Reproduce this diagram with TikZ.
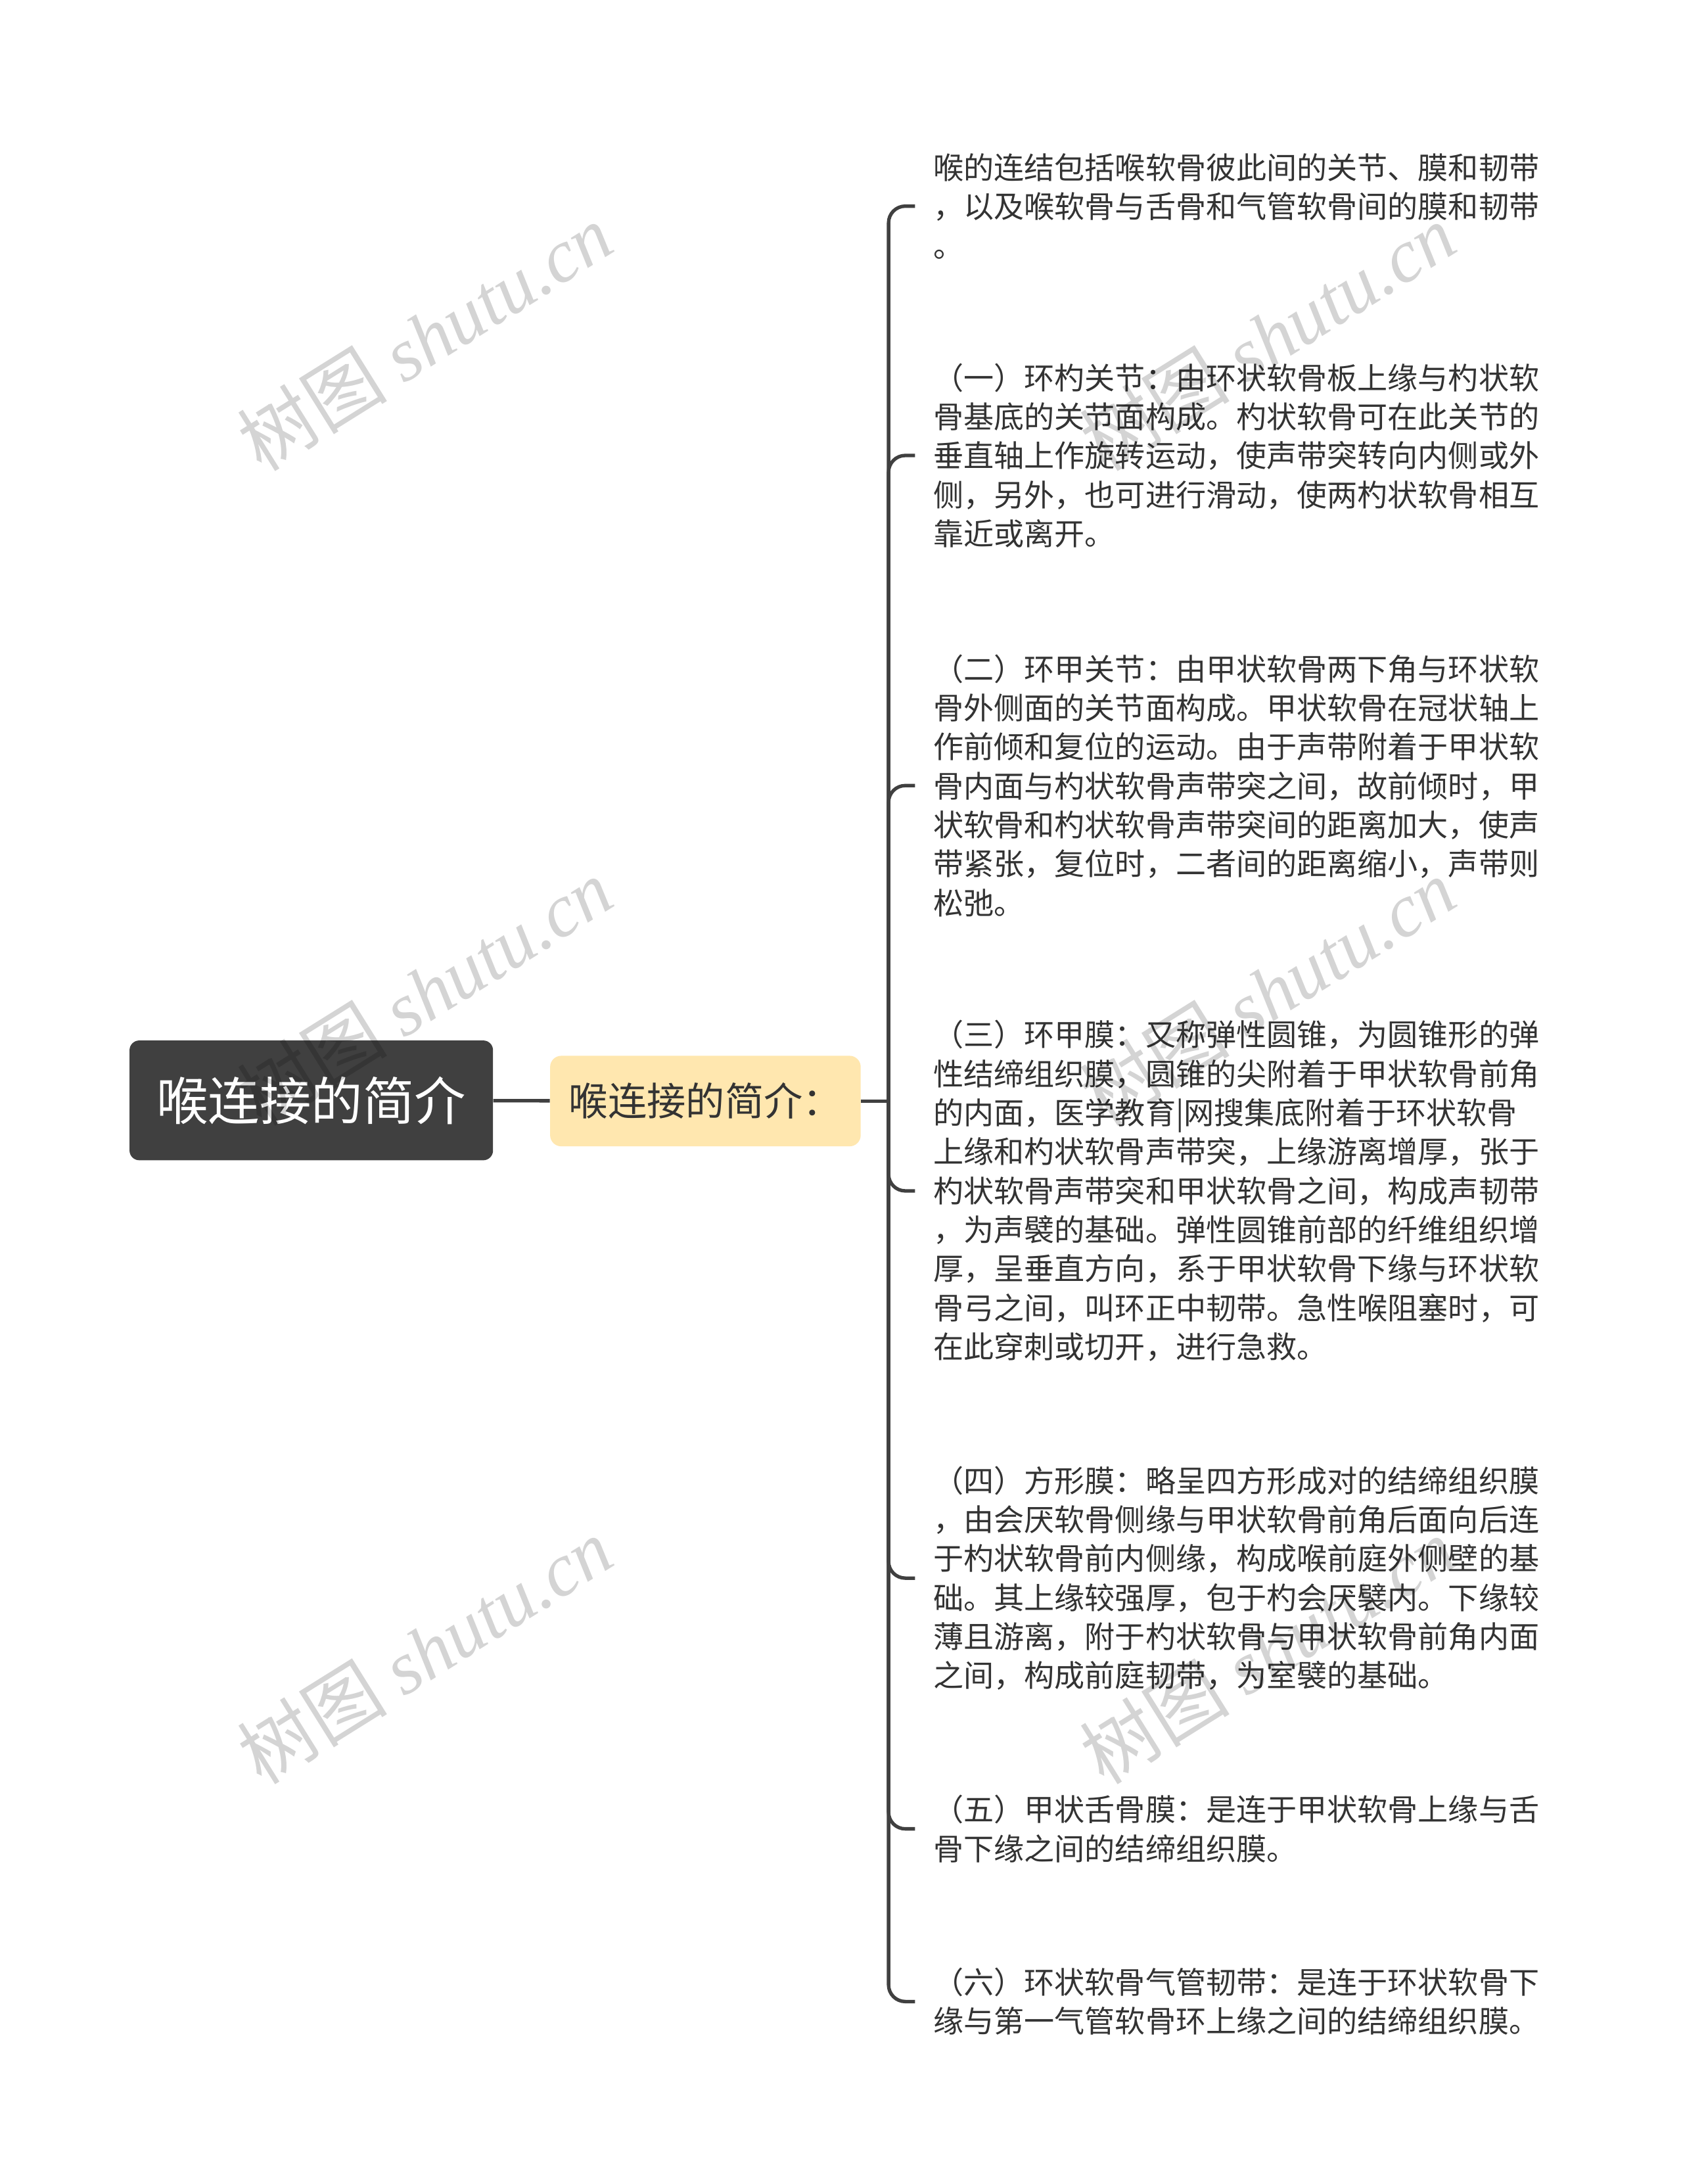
\documentclass[tikz,border=0pt]{standalone}
\usepackage{fontspec}
\setmainfont{Noto Sans CJK SC}
\newfontfamily\marcafont{Liberation Serif}
\definecolor{gris}{HTML}{404040}
\definecolor{texto}{HTML}{333333}
\definecolor{crema}{HTML}{FFE7AF}
\tikzset{
	raiz/.style={fill=gris, text=white, rounded corners=7pt, minimum width=261pt, minimum height=86pt, inner sep=0pt, font=\fontsize{37}{40}\selectfont},
	tema/.style={fill=crema, text=texto, rounded corners=8pt, minimum width=223pt, minimum height=65pt, inner sep=0pt, font=\fontsize{28}{32}\selectfont},
	hoja/.style={anchor=west, align=left, text=texto, inner xsep=13pt, inner ysep=0pt, font=\fontsize{21.75}{28}\selectfont},
	conector/.style={draw=gris, line width=2.5pt, rounded corners=12pt},
	marca/.style={text=black, opacity=0.17, rotate=32, font=\fontsize{54}{60}\selectfont}
}
\begin{document}
\begin{tikzpicture}[x=1pt, y=-1pt]
	\fill[white] (0,0) rectangle (1208,1568);
	\useasboundingbox (0,0) rectangle (1208,1568);
	% nodos principales
	\node[raiz] (raiz) at (223.5, 790) {喉连接的简介};
	\node[tema] (tema) at (506.5, 790.5) {喉连接的简介：};
	\coordinate (eje) at (638, 790.5);
	% hojas de texto
	\node[hoja] (h1) at (657, 148) {喉的连结包括喉软骨彼此间的关节、膜和韧带\\，以及喉软骨与舌骨和气管软骨间的膜和韧带\\。};
	\node[hoja] (h2) at (657, 327) {（一）环杓关节：由环状软骨板上缘与杓状软\\骨基底的关节面构成。杓状软骨可在此关节的\\垂直轴上作旋转运动，使声带突转向内侧或外\\侧，另外，也可进行滑动，使两杓状软骨相互\\靠近或离开。};
	\node[hoja] (h3) at (657, 564) {（二）环甲关节：由甲状软骨两下角与环状软\\骨外侧面的关节面构成。甲状软骨在冠状轴上\\作前倾和复位的运动。由于声带附着于甲状软\\骨内面与杓状软骨声带突之间，故前倾时，甲\\状软骨和杓状软骨声带突间的距离加大，使声\\带紧张，复位时，二者间的距离缩小，声带则\\松弛。};
	\node[hoja] (h4) at (657, 855) {（三）环甲膜：又称弹性圆锥，为圆锥形的弹\\性结缔组织膜，圆锥的尖附着于甲状软骨前角\\的内面，医学教育|网搜集底附着于环状软骨\\上缘和杓状软骨声带突，上缘游离增厚，张于\\杓状软骨声带突和甲状软骨之间，构成声韧带\\，为声襞的基础。弹性圆锥前部的纤维组织增\\厚，呈垂直方向，系于甲状软骨下缘与环状软\\骨弓之间，叫环正中韧带。急性喉阻塞时，可\\在此穿刺或切开，进行急救。};
	\node[hoja] (h5) at (657, 1133) {（四）方形膜：略呈四方形成对的结缔组织膜\\，由会厌软骨侧缘与甲状软骨前角后面向后连\\于杓状软骨前内侧缘，构成喉前庭外侧壁的基\\础。其上缘较强厚，包于杓会厌襞内。下缘较\\薄且游离，附于杓状软骨与甲状软骨前角内面\\之间，构成前庭韧带，为室襞的基础。};
	\node[hoja] (h6) at (657, 1313) {（五）甲状舌骨膜：是连于甲状软骨上缘与舌\\骨下缘之间的结缔组织膜。};
	\node[hoja] (h7) at (657, 1437) {（六）环状软骨气管韧带：是连于环状软骨下\\缘与第一气管软骨环上缘之间的结缔组织膜。};
	% conectores
	\draw[conector] (raiz) -- (tema);
	\draw[conector] (tema.east) -- (eje);
	\foreach \h in {h1,h2,h3,h4,h5,h6,h7}
		\draw[conector] (eje) |- (\h.west);
	% marcas de agua
	\foreach \mx/\my in {305/242, 910/242, 305/712, 910/712, 305/1185, 910/1185}
		\node[marca] at (\mx, \my) {树图 {\marcafont\itshape shutu.cn}};
\end{tikzpicture}
\end{document}
